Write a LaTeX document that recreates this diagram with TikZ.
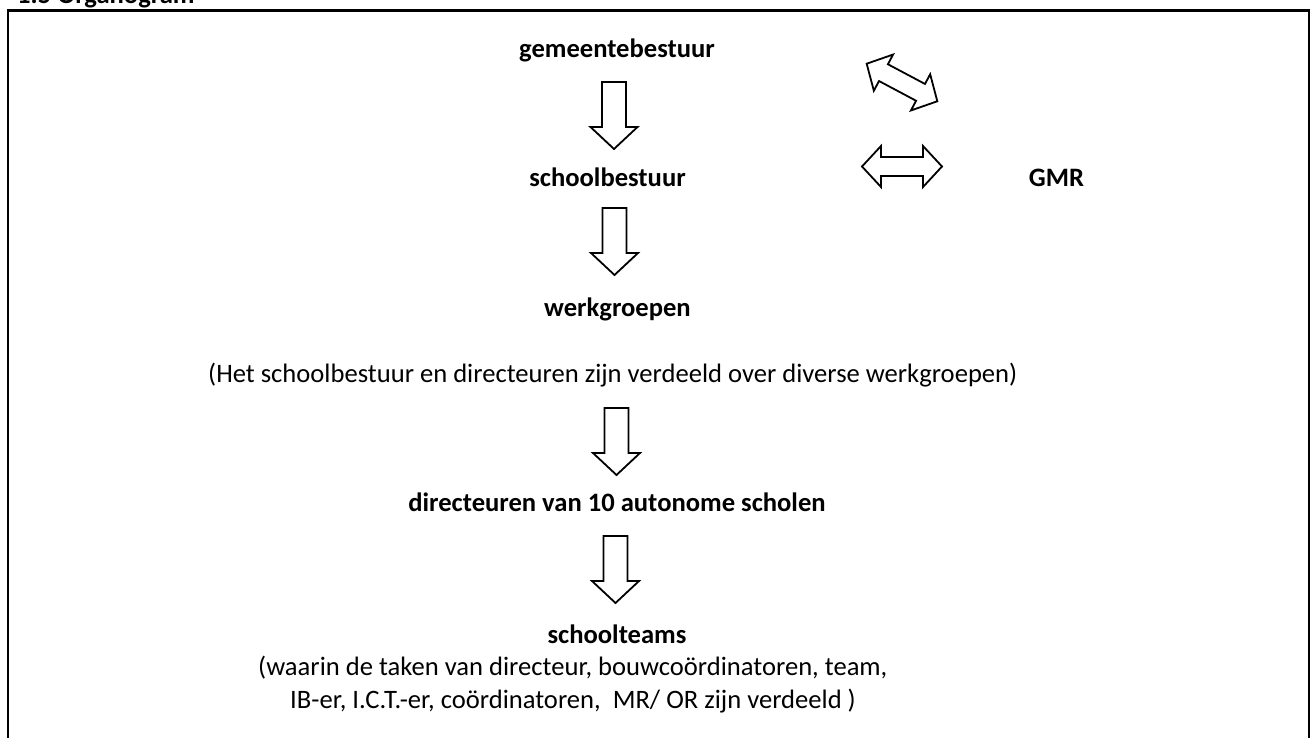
\documentclass[tikz,border=0pt]{standalone}
\usepackage{fontspec}
\setmainfont{Carlito}
\begin{document}
\begin{tikzpicture}[x=1pt,y=-1pt,
  lbl/.style={inner sep=0pt,font=\fontsize{26.6}{33}\selectfont\bfseries},
  txt/.style={inner sep=0pt,font=\fontsize{26.6}{33}\selectfont},
  blockarrow/.style={draw=black,line width=1.8pt,line join=miter,fill=white},
  downarrow/.pic={\path[blockarrow] (-12,0) -- (12,0) -- (12,45) -- (23.5,45) -- (0,67) -- (-23.5,45) -- (-12,45) -- cycle;},
  duoarrow/.pic={\path[blockarrow] (-40,0) -- (-21,-20.5) -- (-21,-9.5) -- (21,-9.5) -- (21,-20.5) -- (40,0) -- (21,20.5) -- (21,9.5) -- (-21,9.5) -- (-21,20.5) -- cycle;}]
\useasboundingbox (0,0) rectangle (1312,738);
\begin{scope}
\clip (0,0) rectangle (1312,738);
% title (cut off at top in the reference)
\node[lbl,anchor=base west] (title) at (17,3.5) {1.5 Organogram};
% frame
\draw[line width=2.2pt] (8,738) -- (8,10.5) -- (1309,10.5) -- (1309,738);
\end{scope}
% labels
\node[lbl,anchor=base] (gem) at (617,58) {gemeentebestuur};
\node[lbl,anchor=base] (sb) at (607.5,187) {schoolbestuur};
\node[lbl,anchor=base] (gmr) at (1056.5,187) {GMR};
\node[lbl,anchor=base] (wg) at (617.5,316) {werkgroepen};
\node[txt,anchor=base west] (note) at (208,382) {(Het schoolbestuur en directeuren zijn verdeeld over diverse werkgroepen)};
\node[lbl,anchor=base] (dir) at (617,511) {directeuren van 10 autonome scholen};
\node[lbl,anchor=base] (st) at (617,643) {schoolteams};
\node[txt,anchor=base west] (st1) at (258,675) {(waarin de taken van directeur, bouwcoördinatoren, team,};
\node[txt,anchor=base west] (st2) at (290,708) {IB-er, I.C.T.-er, coördinatoren,\ \ MR/ OR zijn verdeeld )};
% block arrows
\pic at (614,82) {downarrow};
\pic at (614.5,208) {downarrow};
\pic at (616.5,408) {downarrow};
\pic at (615.5,536) {downarrow};
\pic[rotate=-28] at (902,82.5) {duoarrow};
\pic at (902,166.5) {duoarrow};
\end{tikzpicture}
\end{document}
